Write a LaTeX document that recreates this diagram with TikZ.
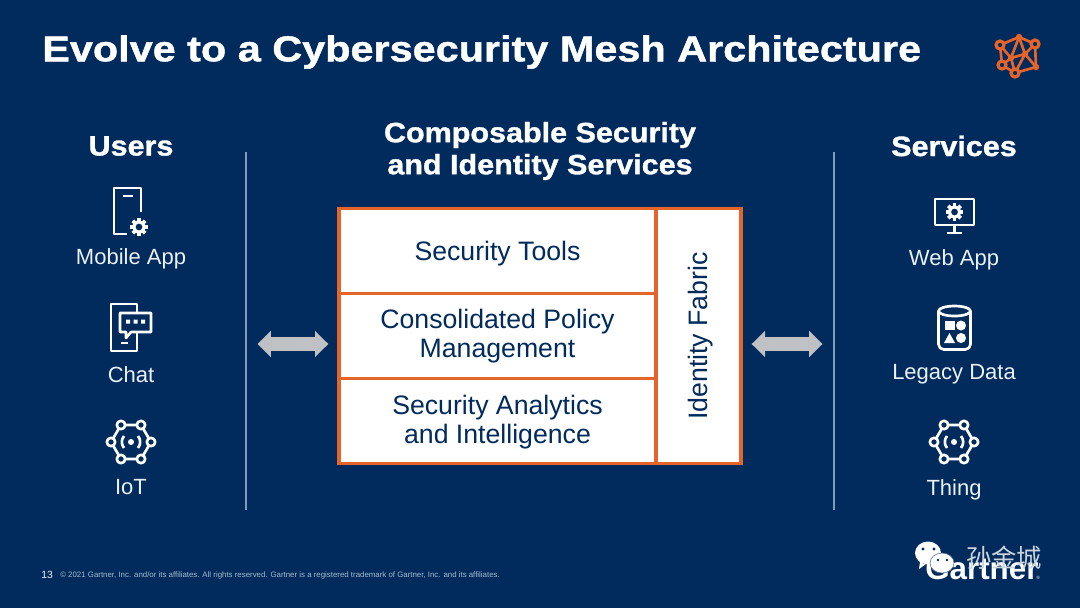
\documentclass[tikz,border=0pt]{standalone}
\usepackage{fontspec}
\setmainfont{Liberation Sans}
\newfontfamily\titlefont[FakeStretch=1.15,FakeBold=1.2]{Liberation Sans Bold}
\newfontfamily\headfont[FakeStretch=1.09,FakeBold=1.2]{Liberation Sans Bold}
\newfontfamily\cjkfont{Noto Sans CJK SC}
\usetikzlibrary{arrows.meta,positioning}
\definecolor{navy}{HTML}{012B5C}
\definecolor{ember}{HTML}{E4642A}
\definecolor{rail}{HTML}{7F9BBB}
\definecolor{steel}{HTML}{BFC1C4}
\definecolor{pale}{HTML}{EAF1F8}
\definecolor{fine}{HTML}{A7BAD0}
\newcommand\celltext[2]{\raisebox{#1}[\height][\depth]{\begin{tabular}{@{}c@{}}#2\end{tabular}}}
\tikzset{cell/.style={draw=ember,fill=white,line width=2.4pt,outer sep=0pt,minimum width=237.75pt,
 minimum height=63.75pt,align=center,text=navy,font=\fontsize{20}{22}\selectfont,inner sep=0pt},
 heading/.style={text=white,align=center,font=\headfont\fontsize{21}{24}\selectfont,inner sep=0pt},
 caption/.style={text=pale,font=\fontsize{16.5}{19}\selectfont,inner sep=0pt},
 railline/.style={draw=rail,line width=1.2pt},
 gate/.style={draw=steel,line width=10pt,{Triangle[length=10pt,width=19pt]}-{Triangle[length=10pt,width=19pt]}},
 icon/.style={draw=white,line width=2pt,line join=round},
 gearicon/.pic={
  \foreach \a in {0,45,...,315} \draw[white,line width=2.8pt] (0,0) ++(\a:5) -- ++(\a:3.8);
  \draw[white,line width=2.4pt] (0,0) circle (5.2);},
 hexicon/.pic={
  \draw[icon] (-10,-17) -- (10,-17) -- (20,0) -- (10,17) -- (-10,17) -- (-20,0) -- cycle;
  \foreach \p in {(-10,-17),(10,-17),(20,0),(10,17),(-10,17),(-20,0)}
   \draw[icon,fill=navy] \p circle (4.2);
  \fill[white] (0,0) circle (3);
  \draw[icon] (7,-6) arc (-40:40:9.3);
  \draw[icon] (-7,-6) arc (220:140:9.3);}}
\begin{document}
\begin{tikzpicture}[x=.75pt,y=-.75pt]
\fill[navy] (0,0) rectangle (1080,608);

\node[text=white,anchor=west,inner sep=0pt,font=\titlefont\fontsize{27}{30}\selectfont] (title) at (42,52) {Evolve to a Cybersecurity Mesh Architecture};

% left column
\node[heading] (users) at (131,146) {Users};
\draw[icon] (141,212) -- (141,188) -- (114,188) -- (114,234) -- (127,234);
\draw[icon] (123,196) -- (133,196);
\pic at (139,227) {gearicon};
\node[caption] (mobile) at (131,258.5) {Mobile App};
\draw[icon] (120,351) -- (111,351) -- (111,304) -- (137,304) -- (137,313);
\draw[icon] (120,351) -- (137,351) -- (137,333);
\draw[icon] (120,313) -- (151,313) -- (151,332) -- (131,332) -- (126,338) -- (126,332) -- (120,332) -- cycle;
\fill[white] (126,319.5) rectangle (130,323.5) (133.5,319.5) rectangle (137.5,323.5) (141,319.5) rectangle (145,323.5);
\draw[icon] (121,343) -- (128,343);
\node[caption] (chat) at (131,374.5) {Chat};
\pic at (131,442) {hexicon};
\node[caption] (iot) at (131,487) {IoT};

% right column
\node[heading] (services) at (954,146) {Services};
\draw[icon] (935,199) rectangle (974,225);
\draw[icon] (954.5,225) -- (954.5,233) (947,233) -- (962,233);
\pic at (954.5,212) {gearicon};
\node[caption] (web) at (954,259.5) {Web App};
\draw[icon,rounded corners=4pt] (938.5,311) -- (938.5,349.5) -- (970.5,349.5) -- (970.5,311);
\draw[icon] (954.5,311) ellipse (16 and 5);
\fill[white] (945,321) rectangle (955,330);
\fill[white] (961,325.5) circle (5);
\fill[white] (949.5,333) -- (955,343) -- (944,343) -- cycle;
\fill[white] (961,338) circle (5);
\node[caption] (legacy) at (954,374.5) {Legacy Data};
\pic at (954,442) {hexicon};
\node[caption] (thing) at (954,490) {Thing};

% centre block
\node[heading] (composable) at (540,151) {Composable Security\\and Identity Services};
\node[cell] (tools) at (497.5,251) {\celltext{-2.6pt}{Security Tools}};
\node[cell,below=0pt of tools] (policy) {\celltext{-1pt}{Consolidated Policy\\Management}};
\node[cell,below=0pt of policy] (analytics) {\celltext{-1.5pt}{Security Analytics\\and Intelligence}};
\node[cell,minimum width=63.75pt,minimum height=191.25pt,right=0pt of policy] (fabric) {\rotatebox{90}{\raisebox{-1.6pt}[\height][\depth]{Identity Fabric}}};

\draw[railline] (246,152) coordinate (railL) -- (246,510);
\draw[railline] (834,152) coordinate (railR) -- (834,510);
\coordinate (gateL) at (246,344);
\coordinate (gateR) at (834,344);
\draw[gate,shorten <=8.6pt,shorten >=8pt] (gateL) -- (policy.west|-gateL);
\draw[gate,shorten <=8pt,shorten >=8.6pt] (fabric.east|-gateR) -- (gateR);

% logo
\begin{scope}[draw=ember,line width=2pt]
\draw (1000,45) -- (1019,37) -- (1035,44) -- (1036,67) -- (1015,73) -- (1002,65) -- cycle;
\draw (1019,37) -- (1011,58) -- (1002,65) (1011,58) -- (1015,73) (1011,58) -- (1000,45) (1019,37) -- (1025,54) -- (1036,67) (1025,54) -- (1035,44) (1025,54) -- (1015,73) (1011,58) -- (1025,54);
\foreach \p in {(1000,45),(1035,44),(1002,65),(1015,73)} \draw[line width=2.4pt,fill=navy] \p circle (4);
\foreach \p in {(1019,37),(1036,67),(1011,58),(1025,54)} \fill[ember] \p circle (3.2);
\end{scope}

% footer
\node[text=pale,anchor=west,inner sep=0pt,font=\fontsize{7.8}{9}\selectfont] (pageno) at (41,575) {13};
\node[text=fine,anchor=west,inner sep=0pt,font=\fontsize{5.9}{7}\selectfont] (legal) at (60,575.5) {© 2021 Gartner, Inc. and/or its affiliates. All rights reserved. Gartner is a registered trademark of Gartner, Inc. and its affiliates.};

% watermark
\node[text=white,anchor=base west,inner sep=0pt,font=\bfseries\fontsize{23.5}{26}\selectfont] (gartner) at (925,579) {Gartner};
\node[text=white,anchor=base west,inner sep=0pt,font=\fontsize{3.5}{4}\selectfont] (reg) at (1036,579) {®};
\fill[white] (928,553) ellipse (13 and 11.5) (920,562) -- (919,569) -- (926,564) -- cycle;
\fill[white,draw=navy!70,line width=.4pt] (942,563) ellipse (12 and 10);
\fill[navy] (923,549) circle (1.6) (934,549) circle (1.6) (938,560) circle (1.3) (947,560) circle (1.3);
\node[text=white!80!navy,anchor=west,inner sep=0pt,font=\cjkfont\fontsize{19}{20}\selectfont] (wechat) at (966,558) {孙金城};
\end{tikzpicture}
\end{document}
